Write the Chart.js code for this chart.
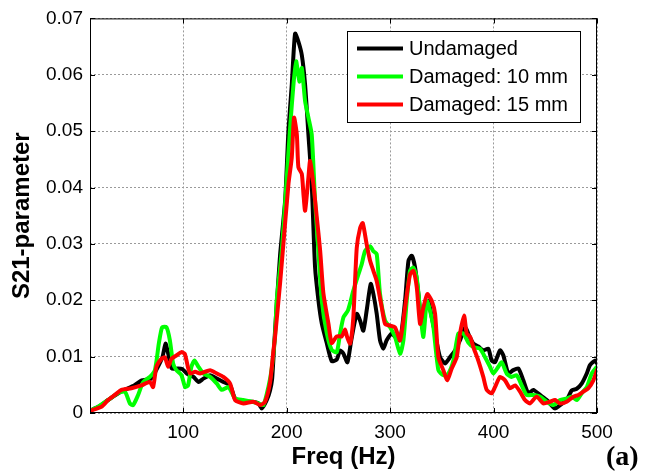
<!DOCTYPE html>
<html>
<head>
<meta charset="utf-8">
<script src="https://cdn.jsdelivr.net/npm/chart.js@4.4.1/dist/chart.umd.min.js"></script>
<style>
  html, body { margin: 0; padding: 0; background: #fff; }
  #wrap { width: 653px; height: 474px; }
</style>
</head>
<body>
<div id="wrap"><canvas id="grafico" width="653" height="474"></canvas></div>
<script>
/* S21 vs frequência — três condições da viga */

const freqTicks = [100, 200, 300, 400, 500];
const s21Ticks = [0, 0.01, 0.02, 0.03, 0.04, 0.05, 0.06, 0.07];

const seriesNames = ["Undamaged", "Damaged: 10 mm", "Damaged: 15 mm"];

const freqUndamaged = [
  10, 18, 27.5, 40, 53, 60, 69, 74, 80, 83,
  85.5, 89, 95, 99, 103.6, 110, 114.8, 119.6, 126.1, 132.6,
  138.9, 145.4, 150.2, 158.3, 166.4, 172.8, 176, 180.9, 184, 186,
  188, 190, 193.7, 198.6, 201.8, 205, 208.2, 211.4, 214.7, 217.9,
  221.1, 224.3, 227.5, 230.7, 234, 238.8, 243.6, 248.5, 251.7, 255,
  258.8, 262.5, 267.8, 271, 274.2, 277.4, 281.3, 283.9, 287.1, 290.3,
  293.5, 296.7, 301.6, 305, 309.7, 314.5, 317.8, 321, 324.2, 327.4,
  330.6, 333.8, 337, 340.3, 343.5, 348.3, 353.1, 357.9, 362.8, 367.6,
  372.5, 377, 380.5, 385.3, 390.1, 395, 398.2, 401.4, 406.3, 409.5,
  414.3, 419.1, 424, 428.8, 433.6, 438.5, 444.9, 451.4, 459.4, 464.3,
  470.7, 475.6, 480.4, 485.2, 490.1, 493.2, 498.1, 500
];
const s21Undamaged = [
  0.0004, 0.0011, 0.0023, 0.0038, 0.0049, 0.0058, 0.0061, 0.0076, 0.0099, 0.0123,
  0.0106, 0.0079, 0.0079, 0.0078, 0.0070, 0.0064, 0.0055, 0.0061, 0.0067, 0.0061,
  0.0055, 0.0049, 0.0026, 0.0020, 0.0020, 0.0017, 0.0008, 0.0023, 0.0040, 0.0060,
  0.0120, 0.0180, 0.0280, 0.0377, 0.0501, 0.0582, 0.0673, 0.0659, 0.0635, 0.0582,
  0.0494, 0.0406, 0.0259, 0.0201, 0.0159, 0.0124, 0.0092, 0.0095, 0.0111, 0.0105,
  0.0090, 0.0129, 0.0176, 0.0164, 0.0146, 0.0182, 0.0229, 0.0211, 0.0176, 0.0129,
  0.0114, 0.0129, 0.0141, 0.0135, 0.0129, 0.0199, 0.0270, 0.0279, 0.0258, 0.0211,
  0.0158, 0.0187, 0.0199, 0.0170, 0.0141, 0.0099, 0.0088, 0.0099, 0.0111, 0.0129,
  0.0152, 0.0135, 0.0123, 0.0118, 0.0111, 0.0114, 0.0093, 0.0090, 0.0111, 0.0102,
  0.0070, 0.0076, 0.0079, 0.0058, 0.0035, 0.0041, 0.0032, 0.0023, 0.0008, 0.0014,
  0.0023, 0.0040, 0.0043, 0.0052, 0.0070, 0.0085, 0.0093, 0.0088
];

const freqDano10 = [
  10, 18, 27.5, 37, 43.7, 48.5, 51.7, 56.5, 61.4, 67.8,
  72.7, 76.5, 79.7, 83.9, 87.2, 90.3, 93.5, 98.4, 101.9, 104.8,
  108, 111, 114.8, 119.6, 126.1, 132.6, 137.4, 143.8, 150.2, 158.3,
  166.4, 172.8, 177.6, 182.4, 185.7, 188.9, 190.5, 195.4, 200.2, 203.4,
  206.6, 209.2, 212.4, 214.7, 217.9, 221.1, 224.3, 227.5, 230.7, 234,
  238.8, 243.6, 248.5, 251.7, 255, 259.3, 264.5, 269.4, 272.6, 275.8,
  280.7, 283.9, 287.1, 290.3, 295.2, 300, 304.8, 309.7, 312.9, 316.1,
  319.3, 322.5, 325.8, 329, 332.2, 335.5, 338.6, 341.9, 346.7, 351.5,
  356.3, 361.2, 366, 370.8, 375.6, 380.5, 387, 391.8, 396.6, 399.8,
  404.6, 407.9, 412.7, 417.5, 422.4, 427.2, 432, 438.5, 444.9, 451.4,
  457.8, 464.3, 470.7, 475.6, 480.4, 485.2, 490.1, 494.9, 500
];
const s21Dano10 = [
  0.0004, 0.0011, 0.0023, 0.0035, 0.0038, 0.0017, 0.0014, 0.0032, 0.0055, 0.0064,
  0.0076, 0.0123, 0.0152, 0.0152, 0.0129, 0.0088, 0.0076, 0.0067, 0.0046, 0.0049,
  0.0082, 0.0093, 0.0082, 0.0070, 0.0064, 0.0052, 0.0041, 0.0046, 0.0026, 0.0023,
  0.0020, 0.0017, 0.0014, 0.0046, 0.0080, 0.0140, 0.0200, 0.0289, 0.0418, 0.0506,
  0.0582, 0.0624, 0.0588, 0.0612, 0.0553, 0.0524, 0.0494, 0.0377, 0.0289, 0.0200,
  0.0142, 0.0112, 0.0108, 0.0141, 0.0170, 0.0182, 0.0217, 0.0246, 0.0264, 0.0287,
  0.0296, 0.0287, 0.0282, 0.0211, 0.0164, 0.0152, 0.0135, 0.0105, 0.0129, 0.0199,
  0.0252, 0.0258, 0.0240, 0.0182, 0.0135, 0.0199, 0.0182, 0.0152, 0.0076, 0.0067,
  0.0070, 0.0093, 0.0141, 0.0141, 0.0125, 0.0117, 0.0114, 0.0099, 0.0082, 0.0070,
  0.0082, 0.0090, 0.0070, 0.0064, 0.0067, 0.0049, 0.0032, 0.0032, 0.0029, 0.0020,
  0.0014, 0.0023, 0.0026, 0.0029, 0.0023, 0.0035, 0.0046, 0.0070, 0.0082
];

const freqDano15 = [
  10, 21, 27.5, 34, 40.4, 50.1, 59.7, 67.8, 71, 74.2,
  79, 82.3, 85.5, 88.7, 93.5, 98.4, 101.6, 104.8, 106.8, 111.6,
  116.4, 126.1, 132.6, 138.9, 145.4, 150.2, 158.3, 168, 174.4, 179.2,
  184.1, 187.3, 188.9, 193.7, 196.9, 201.8, 205, 207.2, 209.9, 211.4,
  214.7, 216.3, 217.9, 221.1, 222.7, 225.9, 229.2, 232.4, 235.6, 240.4,
  243.6, 248.5, 253.3, 256.5, 258.5, 261.4, 264.5, 267.8, 271, 273.6,
  277.4, 280.7, 283.9, 287.1, 292, 295.2, 300, 304.8, 309.7, 314.5,
  319.3, 322.5, 325.8, 329, 332.2, 336, 340.3, 343.5, 346.7, 351.5,
  355.4, 359.6, 364.4, 367.6, 371.5, 374.1, 377.4, 380.5, 385.3, 390.1,
  393.4, 398.2, 401.4, 406.3, 411.1, 415.9, 420.8, 425.6, 430.4, 435.3,
  441.7, 448.1, 454.6, 459.4, 464.3, 470.7, 477.2, 482, 486.8, 491.7,
  496.5, 500
];
const s21Dano15 = [
  0.0004, 0.0011, 0.0023, 0.0032, 0.0041, 0.0044, 0.0049, 0.0055, 0.0046, 0.0082,
  0.0096, 0.0099, 0.0082, 0.0096, 0.0102, 0.0108, 0.0105, 0.0080, 0.0070, 0.0073,
  0.0070, 0.0076, 0.0070, 0.0064, 0.0052, 0.0023, 0.0017, 0.0020, 0.0014, 0.0020,
  0.0055, 0.0111, 0.0136, 0.0230, 0.0300, 0.0406, 0.0453, 0.0524, 0.0494, 0.0436,
  0.0424, 0.0388, 0.0359, 0.0418, 0.0447, 0.0406, 0.0347, 0.0289, 0.0212, 0.0159,
  0.0124, 0.0136, 0.0136, 0.0148, 0.0135, 0.0123, 0.0170, 0.0293, 0.0328, 0.0337,
  0.0299, 0.0270, 0.0252, 0.0234, 0.0187, 0.0158, 0.0155, 0.0152, 0.0129, 0.0187,
  0.0246, 0.0252, 0.0223, 0.0158, 0.0187, 0.0211, 0.0199, 0.0176, 0.0099, 0.0076,
  0.0058, 0.0079, 0.0099, 0.0141, 0.0173, 0.0141, 0.0135, 0.0117, 0.0093, 0.0064,
  0.0041, 0.0035, 0.0046, 0.0064, 0.0058, 0.0044, 0.0049, 0.0038, 0.0023, 0.0017,
  0.0029, 0.0017, 0.0020, 0.0023, 0.0017, 0.0020, 0.0029, 0.0032, 0.0038, 0.0044,
  0.0058, 0.0076
];

const CORES = { preto: "#000000", verde: "#00ff00", vermelho: "#ff0000", grade: "#9a9a9a" };
const FONTE = "Arial, 'Liberation Sans', sans-serif";

function pontos(fs, vs) {
  return fs.map((f, i) => ({ x: f, y: vs[i] }));
}

function serie(nome, fs, vs, cor, ordem) {
  return {
    label: nome, data: pontos(fs, vs), borderColor: cor, backgroundColor: cor,
    borderWidth: 4, pointRadius: 0, tension: 0.2, order: ordem,
    borderJoinStyle: "round", borderCapStyle: "round",
  };
}

/* caixa do eixo + ticks internos estilo MATLAB */
const moldura = {
  id: "moldura",
  afterDraw(chart) {
    const { ctx, chartArea: a, scales } = chart;
    ctx.save();
    ctx.strokeStyle = "#000";
    ctx.lineWidth = 1;
    ctx.strokeRect(a.left + 0.5, a.top + 0.5, a.right - a.left - 1, a.bottom - a.top - 1);
    ctx.beginPath();
    freqTicks.forEach((f) => {
      const x = Math.round(scales.x.getPixelForValue(f)) + 0.5;
      ctx.moveTo(x, a.bottom); ctx.lineTo(x, a.bottom - 5);
      ctx.moveTo(x, a.top); ctx.lineTo(x, a.top + 5);
    });
    s21Ticks.forEach((v) => {
      const y = Math.round(scales.y.getPixelForValue(v)) + 0.5;
      ctx.moveTo(a.left, y); ctx.lineTo(a.left + 5, y);
      ctx.moveTo(a.right, y); ctx.lineTo(a.right - 5, y);
    });
    ctx.stroke();

    ctx.fillStyle = "#000";
    ctx.font = "bold 28px 'Times New Roman', 'Liberation Serif', serif";
    ctx.textBaseline = "alphabetic";
    ctx.fillText("(a)", 606, 465);
    ctx.restore();
  },
};

/* legenda dentro do gráfico, canto superior direito */
const legenda = {
  id: "legenda",
  afterDraw(chart) {
    const { ctx } = chart;
    ctx.save();
    ctx.fillStyle = "#fff";
    ctx.fillRect(347, 31, 233, 91);
    ctx.strokeStyle = "#000";
    ctx.lineWidth = 1;
    ctx.strokeRect(347.5, 31.5, 233, 91);
    ctx.font = "20px " + FONTE;
    ctx.textBaseline = "middle";
    chart.data.datasets.forEach((ds, i) => {
      const y = 48.5 + i * 28;
      ctx.strokeStyle = ds.borderColor;
      ctx.lineWidth = 4;
      ctx.beginPath();
      ctx.moveTo(357, y); ctx.lineTo(403, y);
      ctx.stroke();
      ctx.fillStyle = "#000";
      ctx.fillText(ds.label, 409, y + 1);
    });
    ctx.restore();
  },
};

new Chart(document.getElementById("grafico"), {
  type: "line",
  data: {
    datasets: [
      serie(seriesNames[0], freqUndamaged, s21Undamaged, CORES.preto, 3),
      serie(seriesNames[1], freqDano10, s21Dano10, CORES.verde, 2),
      serie(seriesNames[2], freqDano15, s21Dano15, CORES.vermelho, 1),
    ],
  },
  options: {
    responsive: false,
    animation: false,
    layout: { padding: { top: 16, right: 56, bottom: 0, left: 0 } },
    plugins: { legend: { display: false }, tooltip: { enabled: false } },
    scales: {
      x: {
        type: "linear", min: 10, max: 500,
        afterBuildTicks: (ax) => { ax.ticks = freqTicks.map((v) => ({ value: v })); },
        afterFit: (ax) => { ax.height = 61; },
        grid: { color: CORES.grade, drawTicks: false },
        border: { display: false, dash: [2, 2] },
        ticks: { color: "#000", font: { family: FONTE, size: 19 }, padding: 8, maxRotation: 0, autoSkip: false },
        title: {
          display: true, text: "Freq (Hz)", color: "#000",
          font: { family: FONTE, size: 24, weight: "bold" }, padding: { top: 0, bottom: 2 },
        },
      },
      y: {
        min: 0, max: 0.07,
        afterBuildTicks: (ax) => { ax.ticks = s21Ticks.map((v) => ({ value: v })); },
        afterFit: (ax) => { ax.width = 90; },
        grid: { color: CORES.grade, drawTicks: false },
        border: { display: false, dash: [2, 2] },
        ticks: {
          color: "#000", font: { family: FONTE, size: 19 }, padding: 7,
          callback: (v) => (v === 0 ? "0" : v.toFixed(2)),
        },
        title: {
          display: true, text: "S21-parameter", color: "#000",
          font: { family: FONTE, size: 24, weight: "bold" }, padding: { top: 8, bottom: 0 },
        },
      },
    },
  },
  plugins: [moldura, legenda],
});
</script>
</body>
</html>
